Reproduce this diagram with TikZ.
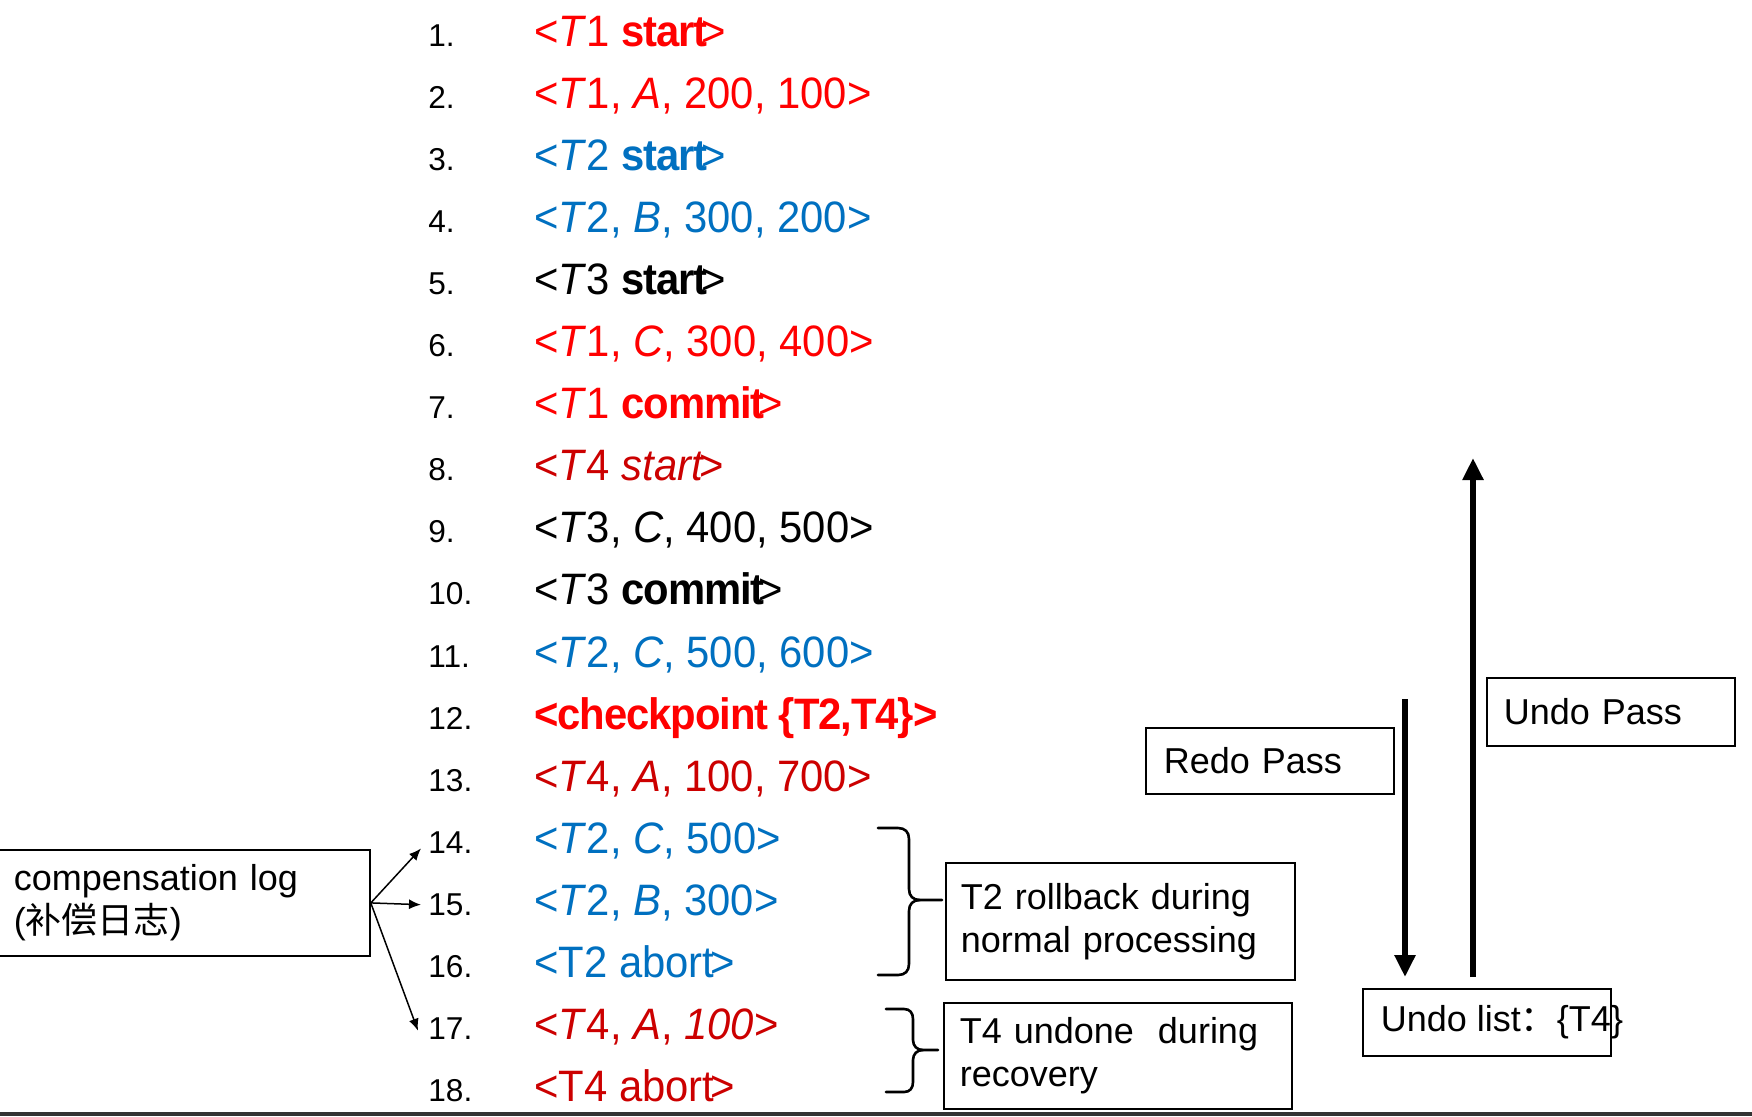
\documentclass[tikz,border=0pt]{standalone}
\usepackage{fontspec}
\setmainfont{Liberation Sans}
\newfontfamily\entryf[FakeStretch=0.95,BoldFeatures={LetterSpace=-2.5}]{Liberation Sans}
\newfontfamily\cjk{Noto Sans CJK SC}
\usetikzlibrary{arrows.meta,calc}
\definecolor{lred}{HTML}{FF0000}
\definecolor{lblue}{HTML}{0070C0}
\definecolor{dred}{HTML}{CC0000}
\begin{document}
\begin{tikzpicture}[x=0.5pt,y=-0.5pt,
  num/.style={anchor=base west,inner sep=0pt,font=\fontsize{15.8pt}{18pt}\selectfont},
  entry/.style={anchor=base west,inner sep=0pt,font=\entryf\fontsize{22pt}{26pt}\selectfont},
  box/.style={draw,line width=0.9pt,anchor=north west,align=left,inner ysep=0pt,font=\fontsize{18pt}{21.5pt}\selectfont},
  thinarrow/.style={line width=0.75pt,-{Latex[length=6pt,width=5pt]}},
  pass/.style={line width=3pt,-{Triangle[length=11pt,width=10pt]}},
  brace/.style={line width=1.3pt,line cap=round,line join=round}
]
\useasboundingbox (0,0) rectangle (1752,1116);
\fill[white] (0,0) rectangle (1752,1116);

% line numbers
\node[num] (n1) at (428,46) {1.};
\node[num] (n2) at (428,108.1) {2.};
\node[num] (n3) at (428,170.2) {3.};
\node[num] (n4) at (428,232.3) {4.};
\node[num] (n5) at (428,294.4) {5.};
\node[num] (n6) at (428,356.5) {6.};
\node[num] (n7) at (428,418.6) {7.};
\node[num] (n8) at (428,480.7) {8.};
\node[num] (n9) at (428,542.8) {9.};
\node[num] (n10) at (428,604.9) {10.};
\node[num] (n11) at (428,667) {11.};
\node[num] (n12) at (428,729.1) {12.};
\node[num] (n13) at (428,791.2) {13.};
\node[num] (n14) at (428,853.3) {14.};
\node[num] (n15) at (428,915.4) {15.};
\node[num] (n16) at (428,977.5) {16.};
\node[num] (n17) at (428,1039.6) {17.};
\node[num] (n18) at (428,1101.7) {18.};

% log entries
\node[entry,lred] (e1) at (534,46) {<\textit{T}1 \textbf{start}\kern-0.12em>};
\node[entry,lred] (e2) at (534,108.1) {<\textit{T}1, \textit{A}, 200, 100>};
\node[entry,lblue] (e3) at (534,170.2) {<\textit{T}2 \textbf{start}\kern-0.12em>};
\node[entry,lblue] (e4) at (534,232.3) {<\textit{T}2, \textit{B}, 300, 200>};
\node[entry,black] (e5) at (534,294.4) {<\textit{T}3 \textbf{start}\kern-0.12em>};
\node[entry,lred] (e6) at (534,356.5) {<\textit{T}1, \textit{C}, 300, 400>};
\node[entry,lred] (e7) at (534,418.6) {<\textit{T}1 \textbf{commit}\kern-0.12em>};
\node[entry,dred] (e8) at (534,480.7) {<\textit{T}4 \textit{start}\kern-0.12em>};
\node[entry,black] (e9) at (534,542.8) {<\textit{T}3, \textit{C}, 400, 500>};
\node[entry,black] (e10) at (534,604.9) {<\textit{T}3 \textbf{commit}\kern-0.12em>};
\node[entry,lblue] (e11) at (534,667) {<\textit{T}2, \textit{C}, 500, 600>};
\node[entry,lred] (e12) at (534,729.1) {\textbf{<checkpoint \{T2,T4\}>}};
\node[entry,dred] (e13) at (534,791.2) {<\textit{T}4, \textit{A}, 100, 700>};
\node[entry,lblue] (e14) at (534,853.3) {<\textit{T}2, \textit{C}, 500>};
\node[entry,lblue] (e15) at (534,915.4) {<\textit{T}2, \textit{B}, 300>};
\node[entry,lblue] (e16) at (534,977.5) {<T2 abort\kern-0.08em>};
\node[entry,dred] (e17) at (534,1039.6) {<\textit{T}4, \textit{A}, \textit{100}>};
\node[entry,dred] (e18) at (534,1101.7) {<T4 abort\kern-0.08em>};

% boxes
\node[box,text width=170.5pt,inner xsep=7.5pt,minimum height=53pt] (comp) at (-2,849)
  {compensation log\\({\cjk 补偿日志})};
\node[box,text width=159.5pt,inner xsep=7.5pt,minimum height=58.5pt] (t2box) at (945,862)
  {T2 rollback during\\normal processing};
\node[box,text width=158pt,inner xsep=8pt,minimum height=53pt] (t4box) at (943,1002)
  {T4 undone\ \ during\\recovery};
\node[box,text width=106pt,inner xsep=9pt,minimum height=33pt] (redo) at (1145,727) {Redo Pass};
\node[box,text width=107pt,inner xsep=8.5pt,minimum height=34pt] (undop) at (1486,677) {Undo Pass};
\node[box,inner xsep=9pt,minimum height=33.5pt] (ulist) at (1362,988)
  {\makebox[106pt][l]{Undo list{\cjk ：}\{T4\}}};

% compensation arrows
\draw[thinarrow] (comp.east) -- ($(n14.west)+(-7,6)$);
\draw[thinarrow] (comp.east) -- ($(n15.west)+(-7,0)$);
\draw[thinarrow] (comp.east) -- ($(n17.west)+(-10,2)$);

% redo / undo passes
\coordinate (redotop) at (1405,699);
\coordinate (undotop) at (1473,458);
\draw[pass] (redotop) -- ($(ulist.north west)+(43,-11)$);
\draw[pass] ($(ulist.north west)+(111,-11)$) -- (undotop);

% braces
\draw[brace] (878,828) -- (898,828) .. controls (905,828) and (909,832) .. (909,839) -- (909,889)
  .. controls (909,896) and (913,900) .. (920,900) -- (942,900);
\draw[brace] (920,900) .. controls (913,900) and (909,904) .. (909,911) -- (909,964)
  .. controls (909,971) and (905,975) .. (898,975) -- (878,975);
\draw[brace] (886,1009) -- (904,1009) .. controls (910,1009) and (913,1013) .. (913,1019) -- (913,1040)
  .. controls (913,1046) and (917,1050) .. (923,1050) -- (938,1050);
\draw[brace] (923,1050) .. controls (917,1050) and (913,1054) .. (913,1060) -- (913,1082)
  .. controls (913,1088) and (910,1092) .. (904,1092) -- (886,1092);

% bottom rule
\fill[black!80] (0,1112) rectangle (1752,1116);
\end{tikzpicture}
\end{document}
